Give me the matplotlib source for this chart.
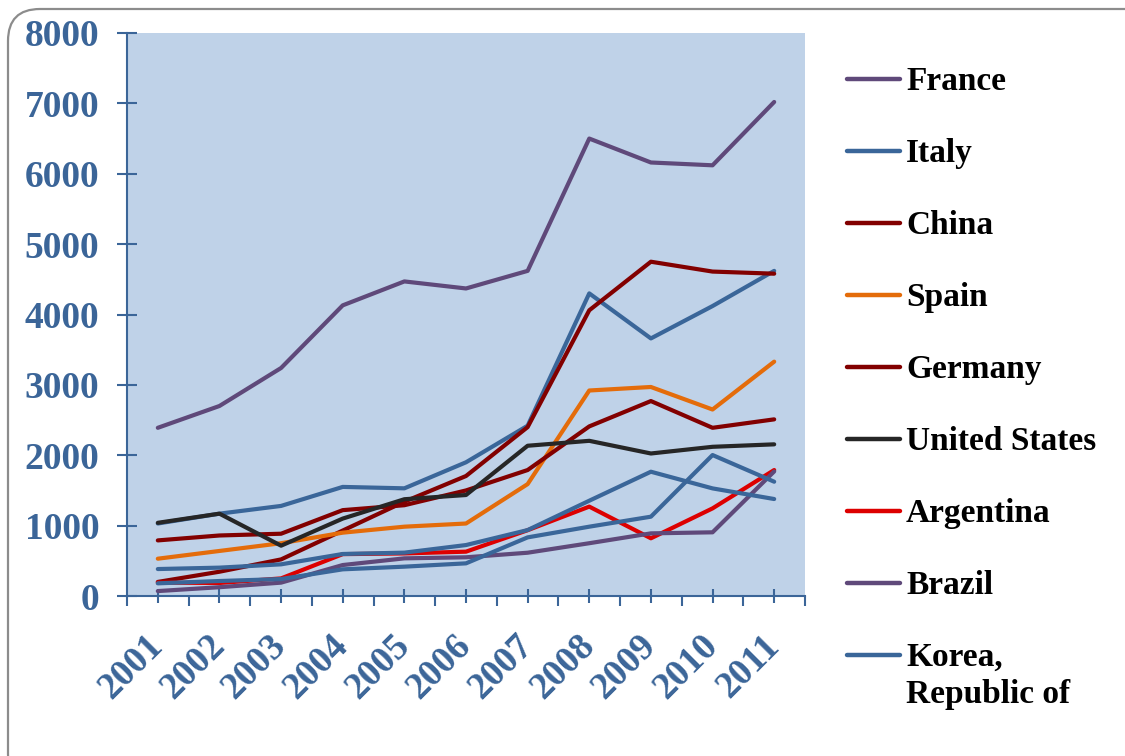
import matplotlib
matplotlib.use("Agg")
import matplotlib.pyplot as plt
from matplotlib.patches import FancyBboxPatch
from matplotlib.lines import Line2D
from matplotlib.ticker import FixedLocator

# Data
years = ['2001', '2002', '2003', '2004', '2005', '2006', '2007', '2008', '2009', '2010', '2011']
france = [2390, 2700, 3240, 4130, 4470, 4370, 4620, 6500, 6160, 6120, 7020]
italy = [1030, 1170, 1280, 1550, 1530, 1900, 2420, 4300, 3660, 4120, 4620]
china = [200, 345, 520, 930, 1340, 1705, 2400, 4060, 4750, 4610, 4580]
spain = [530, 640, 750, 900, 985, 1030, 1590, 2920, 2970, 2650, 3330]
germany = [790, 860, 885, 1220, 1290, 1500, 1790, 2410, 2770, 2390, 2510]
united_states = [1040, 1170, 715, 1100, 1375, 1435, 2135, 2205, 2025, 2120, 2155]
argentina = [190, 185, 250, 595, 605, 630, 935, 1270, 820, 1245, 1790]
brazil = [70, 125, 190, 440, 535, 550, 615, 750, 890, 905, 1770]
korea = [383, 403, 450, 597, 616, 724, 937, 1354, 1766, 1529, 1378]
tenth = [180, 213, 241, 379, 417, 464, 833, 985, 1127, 2003, 1624]  # 10th series, legend entry cut off

names = ['France', 'Italy', 'China', 'Spain', 'Germany', 'United States',
         'Argentina', 'Brazil', 'Korea,\nRepublic of']
series = [france, italy, china, spain, germany, united_states, argentina, brazil, korea, tenth]

PURPLE = '#5F497A'
BLUE = '#3A6699'
DARKRED = '#820000'
colors = [PURPLE, BLUE, DARKRED, '#E46C0A', DARKRED, '#262626', '#DD0000', PURPLE, BLUE, BLUE]

W, H = 1125, 756
fig = plt.figure(figsize=(W / 100, H / 100), dpi=100)
fig.patch.set_facecolor('white')

# outer rounded frame (pixel coords)
frame = FancyBboxPatch((8, -30), 1160, 30 + H - 9, boxstyle='round,pad=0,rounding_size=32',
                       facecolor='none', edgecolor='#8C8C8C', linewidth=1.6,
                       transform=None)
fig.patches.append(frame)

ax = fig.add_axes([127 / W, 1 - 596 / H, (805 - 127) / W, (596 - 33) / H])
ax.set_facecolor('#BFD2E8')

x = list(range(len(years)))
for vals, c in zip(series, colors):
    ax.plot(x, vals, color=c, linewidth=3.0, solid_capstyle='round', solid_joinstyle='round')

ax.set_xlim(-0.5, len(years) - 0.5)
ax.set_ylim(0, 8000)

tick_font = dict(family='Liberation Serif', weight='bold', size=27)
lab_color = '#3B6598'

ax.set_yticks(range(0, 8001, 1000))
ax.set_yticklabels([str(v) for v in range(0, 8001, 1000)], fontdict=tick_font, color=lab_color)

ax.set_xticks(x)
ax.set_xticklabels(years, fontdict=tick_font, color=lab_color, rotation=45,
                   ha='right', va='center', rotation_mode='anchor')
ax.xaxis.set_minor_locator(FixedLocator([i - 0.5 for i in range(len(years) + 1)]))

for s in ['top', 'right']:
    ax.spines[s].set_visible(False)
for s in ['left', 'bottom']:
    ax.spines[s].set_color(lab_color)
    ax.spines[s].set_linewidth(1.5)

ax.tick_params(axis='y', which='major', direction='inout', length=14, width=1.5,
               color=lab_color, pad=13)
ax.tick_params(axis='x', which='major', direction='inout', length=10, width=1.5,
               color=lab_color, pad=27)
ax.tick_params(axis='x', which='minor', direction='out', length=7, width=1.5,
               color=lab_color)

# legend drawn by hand so the handle sits on the first text line
for i, (name, c) in enumerate(zip(names, colors)):
    yc = 1 - (79 + 72 * i) / H
    fig.add_artist(Line2D([847 / W, 900 / W], [yc, yc], color=c, linewidth=3.2,
                          solid_capstyle='round'))
    for j, part in enumerate(name.split('\n')):
        fig.text(906 / W, yc - (11 + 37 * j) / H, part, ha='left', va='baseline',
                 family='Liberation Serif', weight='bold', size=24, color='black')

fig.savefig('out.png', dpi=100, facecolor='white')
